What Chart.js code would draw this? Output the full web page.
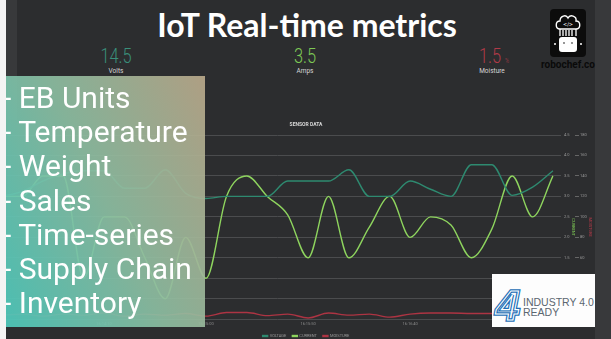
<!DOCTYPE html>
<html><head><meta charset="utf-8">
<script src="https://cdn.jsdelivr.net/npm/chart.js@4.4.1/dist/chart.umd.min.js"></script>
<style>
html,body{margin:0;padding:0;width:611px;height:339px;overflow:hidden;background:#2c2d2f;font-family:Roboto,"Liberation Sans",sans-serif;}
#stage{position:relative;width:611px;height:339px;overflow:hidden;}
.abs{position:absolute;}
#lwhite{left:0;top:0;width:6px;height:339px;background:#f4f4f4;z-index:5;}
#lgray{left:6px;top:0;width:11px;height:120px;background:#38393b;}
#rband{left:595px;top:0;width:16px;height:339px;background:#38393b;}
#chartbox{left:0;top:118px;width:612px;height:230px;}
#htitle{left:0;top:5px;width:614px;text-align:center;color:#fff;font-family:Lato,"Open Sans",sans-serif;font-weight:700;font-size:32px;line-height:40px;}
.stat{width:120px;text-align:center;font-weight:300;font-size:21px;line-height:22px;transform:scaleX(0.78);}
.stat small{font-size:7px;}
.cap{width:80px;text-align:center;font-size:6.5px;color:#d6d6d6;line-height:8px;}
#overlay{left:6px;top:76px;width:199px;height:251px;background:linear-gradient(65deg,rgba(78,201,188,0.93) 0%,rgba(140,190,162,0.92) 50%,rgba(186,169,139,0.92) 100%);z-index:3;}
#list{left:3px;top:81px;color:#fff;font-size:30px;line-height:34.2px;z-index:4;white-space:nowrap;}
#robotxt{left:538px;top:60px;width:60px;text-align:center;font-weight:700;font-size:10px;color:#0a0a0a;line-height:10px;}
#ind{left:492px;top:274px;width:103px;height:53px;background:#fdfdfd;z-index:4;}
</style>
</head><body>
<div id="stage">
  <div id="lgray" class="abs"></div>
  <div id="rband" class="abs"></div>
  <div id="chartbox" class="abs"><canvas id="c"></canvas></div>
  <div id="lwhite" class="abs"></div>
  <div id="htitle" class="abs">IoT Real-time metrics</div>
  <div class="abs stat" style="left:56px;top:45px;color:#3a8f7a;">14.5</div>
  <div class="abs cap" style="left:76px;top:67px;">Volts</div>
  <div class="abs stat" style="left:245px;top:45px;color:#7dc855;">3.5</div>
  <div class="abs cap" style="left:265px;top:67px;">Amps</div>
  <div class="abs stat" style="left:434px;top:45px;color:#b03a48;">1.5 <small>%</small></div>
  <div class="abs cap" style="left:452px;top:67px;">Moisture</div>
  <svg class="abs" style="left:550px;top:9px" width="36" height="48" viewBox="0 0 36 48">
    <rect x="0" y="0" width="36" height="48" rx="4" fill="#0c0c0c"/>
    <path d="M10 20 C5 20 5 12 10 12 C10 7 16 5 18 9 C20 5 27 7 26 12 C31 12 31 20 26 20 Z" fill="none" stroke="#fff" stroke-width="1.4"/>
    <path d="M10 20 L10 27 M13 21 L13 27 M16 21 L16 27 M19 21 L19 27 M22 21 L22 27 M26 20 L26 27" stroke="#fff" stroke-width="1.3"/>
    <text x="18" y="17" font-size="5" fill="#fff" text-anchor="middle" font-family="DejaVu Sans">&lt;/&gt;</text>
    <rect x="9" y="28" width="18" height="15" rx="3" fill="#fff"/>
    <circle cx="14" cy="34" r="0.9" fill="#666"/><circle cx="22" cy="34" r="0.9" fill="#666"/>
    <circle cx="5" cy="35" r="1" fill="#fff"/><circle cx="31" cy="35" r="1" fill="#fff"/>
  </svg>
  <div id="robotxt" class="abs">robochef.co</div>
  <div id="overlay" class="abs"></div>
  <div id="list" class="abs">- EB Units<br>- Temperature<br>- Weight<br>- Sales<br>- Time-series<br>- Supply Chain<br>- Inventory</div>
  <div id="ind" class="abs">
    <svg width="103" height="53" viewBox="0 0 103 53">
      <text x="4" y="46" font-size="42" font-style="italic" font-weight="700" font-family="Liberation Sans" fill="none" stroke="#1f6fb6" stroke-width="3.6">4</text>
      <text x="4" y="46" font-size="42" font-style="italic" font-weight="700" font-family="Liberation Sans" fill="none" stroke="#fff" stroke-width="1.1">4</text>
      <text x="31" y="32" font-size="10.5" font-family="Liberation Sans" fill="#5b6670">INDUSTRY 4.0</text>
      <text x="31" y="42" font-size="10.5" font-family="Liberation Sans" fill="#5b6670">READY</text>
    </svg>
  </div>
</div>
<script>
const timeLabels = ["16:13:20","16:13:30","16:13:40","16:13:50","16:14:00","16:14:10","16:14:20","16:14:30","16:14:40","16:14:50",
  "16:15:00","16:15:10","16:15:20","16:15:30","16:15:40","16:15:50","16:16:00","16:16:10","16:16:20","16:16:30",
  "16:16:40","16:16:50","16:17:00","16:17:10","16:17:20","16:17:30","16:17:40","16:17:50"];
const voltage = [12.0,12.5,13.5,14.2,14.5,14.5,12.8,12.8,14.6,12.3,
  11.8,12.0,12.0,12.0,13.5,13.5,13.5,14.6,12.0,12.0,13.5,12.7,12.0,15.1,15.1,12.1,12.9,14.5];
const current = [3.0,3.0,3.5,3.5,1.0,2.5,2.5,1.5,0.5,2.0,
  1.0,3.0,3.5,3.0,2.55,1.5,3.0,1.5,2.25,3.0,2.0,2.5,2.3,1.5,2.2,3.5,2.5,3.5];
const moisture = [4,5,3,5,4,6,3,5,4,5.5,
  3,6.5,6.5,3.5,5,1.2,6,4,5,2,5,6,6,5.5,5.5,5,5,5];
const seriesNames = ["VOLTAGE","CURRENT","MOISTURE"];
const seriesColors = ["#2e8a70","#8ed45e","#ad3443"];

const tickFont = {size:4, family:'Roboto'};
new Chart(document.getElementById('c'), {
  type:'line',
  data:{
    labels: timeLabels,
    datasets:[
      {label:seriesNames[0], data:voltage, yAxisID:'yV', borderColor:seriesColors[0], backgroundColor:seriesColors[0]},
      {label:seriesNames[1], data:current, yAxisID:'yC', borderColor:seriesColors[1], backgroundColor:seriesColors[1]},
      {label:seriesNames[2], data:moisture, yAxisID:'yM', borderColor:seriesColors[2], backgroundColor:seriesColors[2]}
    ]
  },
  options:{
    responsive:true, maintainAspectRatio:false, animation:false,
    layout:{padding:0},
    elements:{point:{radius:0}, line:{borderWidth:1.4, cubicInterpolationMode:'monotone', fill:false}},
    plugins:{
      title:{display:true, text:'SENSOR DATA', color:'#d8d8d8', font:{size:5, family:'Roboto'}, padding:{top:4, bottom:7}},
      legend:{position:'bottom', labels:{color:'#9a9a9a', font:{size:4, family:'Roboto'}, boxWidth:5, boxHeight:1, padding:6}},
      tooltip:{enabled:false}
    },
    scales:{
      x:{grid:{display:false, drawTicks:false}, border:{display:false},
         ticks:{color:'#8a8a8a', font:tickFont, padding:2, maxRotation:0, autoSkip:false,
                callback:(v,i)=> (i>0 && i%5===0) ? timeLabels[i] : ''}},
      yV:{position:'left', display:false, min:0, max:18},
      yC:{position:'right', min:0, max:4.5,
          ticks:{stepSize:0.5, color:'#9a9a9a', font:tickFont, padding:3},
          grid:{color:'#4b4c4e', lineWidth:1, tickLength:8}, border:{display:false},
          title:{display:true, text:'CURRENT', color:'#7dc855', font:{size:4, family:'Roboto'}, padding:0},
          afterFit:s=>{s.width=22;}},
      yM:{position:'right', min:0, max:180,
          ticks:{stepSize:20, color:'#9a9a9a', font:tickFont, padding:1},
          grid:{drawOnChartArea:false, color:'#666', tickLength:4}, border:{display:false},
          title:{display:true, text:'MOISTURE', color:'#b03a48', font:{size:4, family:'Roboto'}, padding:0},
          afterFit:s=>{s.width=17;}},
      yPad:{position:'right', display:true, ticks:{display:false}, grid:{display:false, drawTicks:false}, border:{display:false},
          afterFit:s=>{s.width=20;}}
    }
  }
});
</script>
</body></html>
